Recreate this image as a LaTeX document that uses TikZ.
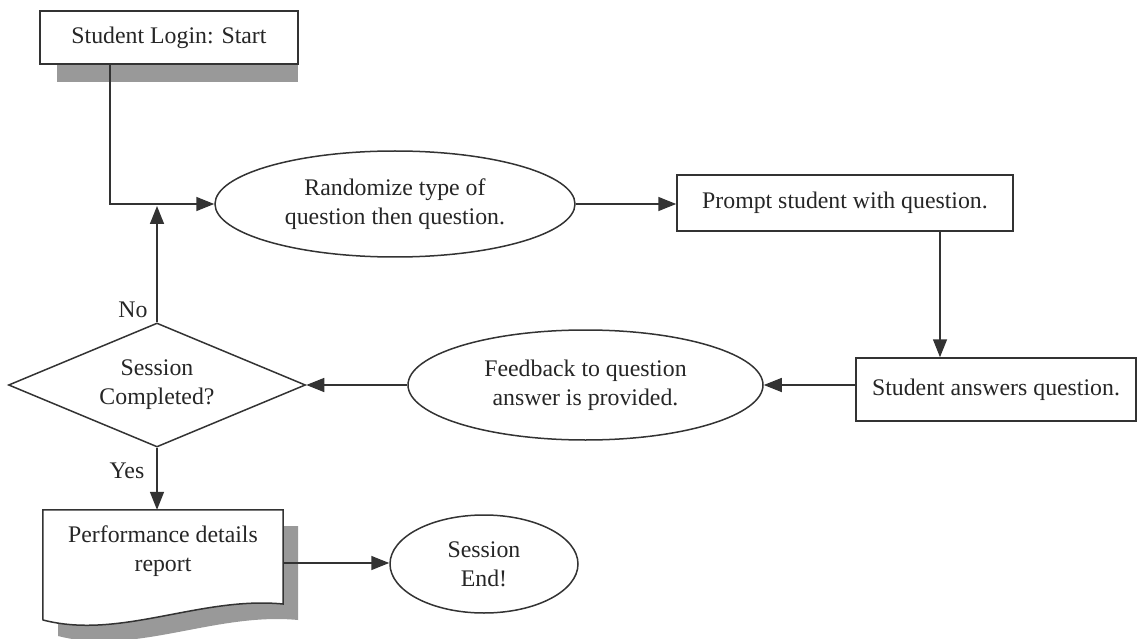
\documentclass[tikz,border=0pt]{standalone}
\usepackage{fontspec}
\setmainfont{Liberation Serif}
\usetikzlibrary{shapes.geometric,arrows.meta}
\begin{document}
\begin{tikzpicture}[x=1pt,y=-1pt,
  every node/.style={font=\fontsize{23.8}{29}\selectfont, text=black!85},
  ln/.style={draw=black!80, line width=1.5pt},
  arr/.style={ln, -{Triangle[length=18pt,width=14pt]}},
  box/.style={rectangle, draw=black!80, line width=1.5pt, fill=white, inner sep=0pt, align=center},
  oval/.style={ellipse, draw=black!80, line width=1.5pt, fill=white, inner sep=0pt, align=center},
  dec/.style={diamond, aspect=2.4, draw=black!80, line width=1.5pt, fill=white, inner sep=0pt, align=center},
  shade/.style={fill=black!40}]
\useasboundingbox (0,0) rectangle (1138,639);
% start box with shadow
\fill[shade] (57,64) rectangle (298,82);
\node[box, minimum width=258pt, minimum height=53pt] (start) at (169,37.5) {Student Login: Start};
% main nodes
\node[oval, minimum width=360pt, minimum height=106pt] (rand) at (395,204) {Randomize type of\\question then question.};
\node[box, minimum width=336pt, minimum height=56pt] (prompt) at (845,203) {Prompt student with question.};
\node[box, minimum width=280pt, minimum height=63pt] (answ) at (996,389.5) {Student answers question.};
\node[oval, minimum width=355pt, minimum height=110pt] (feed) at (585.5,385) {Feedback to question\\answer is provided.};
\node[dec, minimum width=297pt, minimum height=124pt] (dia) at (157,385) {Session\\Completed?};
% document shape with shadow
\node[align=center, minimum width=240pt, minimum height=76pt, inner sep=0pt] (doc) at (163,548) {};
\fill[shade] (58,526) -- (298,526) -- (298,620) .. controls (215,612) and (135,656) .. (58,636) -- cycle;
\draw[ln, fill=white] (doc.north west) -- (doc.north east) -- (283,604) .. controls (200,596) and (120,640) .. (43,620) -- cycle;
\node[align=center, inner sep=0pt] (doctext) at ([yshift=-3pt]doc.center) {Performance details\\report};
\node[oval, minimum width=188pt, minimum height=98pt] (end) at (484,564) {Session\\End!};
% labels
\node (no) at (133,310) {No};
\node (yes) at (127,471) {Yes};
% connectors
\coordinate (sa) at ([xshift=-59pt]start.south);
\draw[arr] (sa) |- (rand.west);
\draw[arr] (rand.east) -- (rand.east -| prompt.west);
\coordinate (pa) at ([xshift=95pt]prompt.south);
\draw[arr] (pa) -- (pa |- answ.north);
\draw[arr] (feed.east -| answ.west) -- (feed.east);
\draw[arr] (feed.west) -- (dia.east);
\draw[arr] (dia.north) -- ([yshift=-2pt]dia.north |- rand.west);
\draw[arr] (dia.south) -- (dia.south |- doc.north);
\coordinate (dr) at ([yshift=-15pt]doc.east);
\draw[arr] (dr) -- (dr -| end.west);
\end{tikzpicture}
\end{document}
